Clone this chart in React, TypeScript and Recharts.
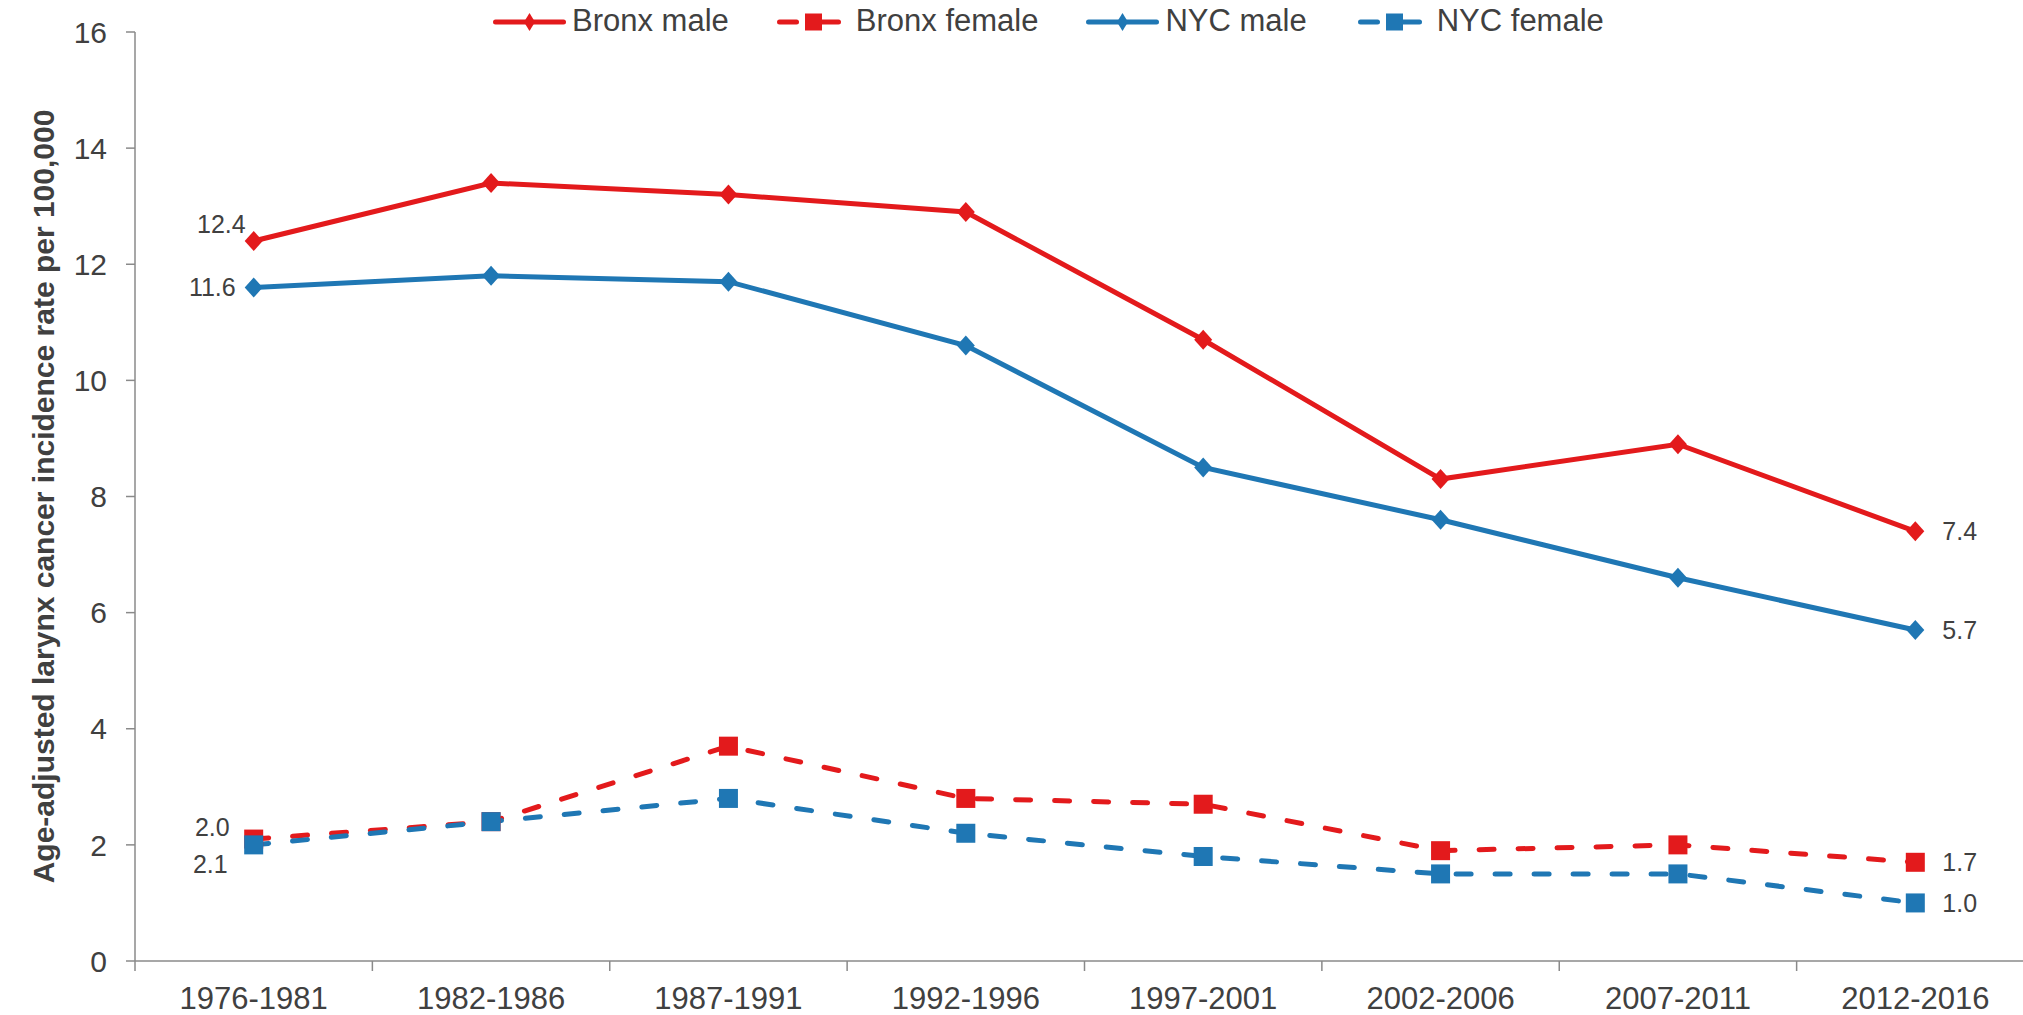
import React from "react";
import { Legend, Line, LineChart, XAxis, YAxis } from "recharts";

const CATEGORIES = [
  "1976-1981",
  "1982-1986",
  "1987-1991",
  "1992-1996",
  "1997-2001",
  "2002-2006",
  "2007-2011",
  "2012-2016",
];

const BRONX_MALE = [12.4, 13.4, 13.2, 12.9, 10.7, 8.3, 8.9, 7.4];
const BRONX_FEMALE = [2.1, 2.4, 3.7, 2.8, 2.7, 1.9, 2.0, 1.7];
const NYC_MALE = [11.6, 11.8, 11.7, 10.6, 8.5, 7.6, 6.6, 5.7];
const NYC_FEMALE = [2.0, 2.4, 2.8, 2.2, 1.8, 1.5, 1.5, 1.0];

// end-point annotations as printed on the chart (first, last)
const BRONX_MALE_LABELS = ["12.4", "7.4"];
const BRONX_FEMALE_LABELS = ["2.0", "1.7"];
const NYC_MALE_LABELS = ["11.6", "5.7"];
const NYC_FEMALE_LABELS = ["2.1", "1.0"];

const Y_TICKS = [0, 2, 4, 6, 8, 10, 12, 14, 16];
const Y_TITLE = "Age-adjusted larynx cancer incidence rate per 100,000";

const RED = "#e31a1c";
const BLUE = "#1f77b4";
const TEXT = "#404040";
const AXIS = "#8a8a8a";
const FONT = "'Liberation Sans', Arial, sans-serif";

const CHART_W = 2050;
const CHART_H = 1015;
const MARGIN = { top: 32, right: 16, bottom: 0, left: 0 };
const Y_AXIS_W = 135;
const X_AXIS_H = 54;
const PLOT_W = CHART_W - MARGIN.right - MARGIN.left - Y_AXIS_W;
const BAND = PLOT_W / CATEGORIES.length;

const data = CATEGORIES.map((period, i) => ({
  period,
  bronxMale: BRONX_MALE[i],
  bronxFemale: BRONX_FEMALE[i],
  nycMale: NYC_MALE[i],
  nycFemale: NYC_FEMALE[i],
}));

type Series = {
  key: string;
  name: string;
  color: string;
  dashed: boolean;
  labels: string[];
  first: { dx: number; dy: number };
};

const SERIES: Series[] = [
  { key: "bronxMale", name: "Bronx male", color: RED, dashed: false, labels: BRONX_MALE_LABELS, first: { dx: -8, dy: -17 } },
  { key: "bronxFemale", name: "Bronx female", color: RED, dashed: true, labels: BRONX_FEMALE_LABELS, first: { dx: -24, dy: -12 } },
  { key: "nycMale", name: "NYC male", color: BLUE, dashed: false, labels: NYC_MALE_LABELS, first: { dx: -18, dy: 0 } },
  { key: "nycFemale", name: "NYC female", color: BLUE, dashed: true, labels: NYC_FEMALE_LABELS, first: { dx: -26, dy: 19 } },
];

function markerFor(s: Series) {
  return (props: any) => {
    const { cx, cy, index } = props;
    if (cx == null || cy == null) return <g key={`${s.key}-m-${index}`} />;
    if (s.dashed) {
      return <rect key={`${s.key}-m-${index}`} x={cx - 9.5} y={cy - 9.5} width={19} height={19} fill={s.color} />;
    }
    return (
      <polygon
        key={`${s.key}-m-${index}`}
        points={`${cx},${cy - 10} ${cx + 9},${cy} ${cx},${cy + 10} ${cx - 9},${cy}`}
        fill={s.color}
      />
    );
  };
}

function labelFor(s: Series) {
  return (props: any) => {
    const { x, y, index } = props;
    const last = CATEGORIES.length - 1;
    if (index !== 0 && index !== last) return <g key={`${s.key}-l-${index}`} />;
    const isFirst = index === 0;
    return (
      <text
        key={`${s.key}-l-${index}`}
        x={isFirst ? x + s.first.dx : x + 27}
        y={isFirst ? y + s.first.dy : y}
        textAnchor={isFirst ? "end" : "start"}
        dominantBaseline="central"
        fontSize={25}
        fill={TEXT}
      >
        {isFirst ? s.labels[0] : s.labels[1]}
      </text>
    );
  };
}

function CategoryTick(props: any) {
  const { x, y, payload } = props;
  const axisY = y - 27;
  const edge = x - BAND / 2;
  return (
    <g>
      <line x1={edge} x2={edge} y1={axisY} y2={axisY + 10} stroke={AXIS} strokeWidth={1.5} />
      <text x={x} y={y} dy={21} textAnchor="middle" fontSize={31} fill={TEXT}>
        {payload.value}
      </text>
    </g>
  );
}

function LegendIcon({ s }: { s: Series }) {
  if (s.dashed) {
    return (
      <svg width={64} height={20} style={{ display: "block" }}>
        <line x1={2.5} x2={19.5} y1={10} y2={10} stroke={s.color} strokeWidth={5} strokeLinecap="round" />
        <line x1={40} x2={61.5} y1={10} y2={10} stroke={s.color} strokeWidth={5} strokeLinecap="round" />
        <rect x={28} y={1.5} width={17} height={17} fill={s.color} />
      </svg>
    );
  }
  return (
    <svg width={73} height={20} style={{ display: "block" }}>
      <line x1={2.5} x2={70.5} y1={10} y2={10} stroke={s.color} strokeWidth={5} strokeLinecap="round" />
      <polygon points="36.5,1 42,10 36.5,19 31,10" fill={s.color} />
    </svg>
  );
}

function LegendRow() {
  return (
    <div style={{ display: "flex", alignItems: "center", height: 40, fontFamily: FONT }}>
      {SERIES.map((s, i) => (
        <div
          key={s.key}
          style={{
            display: "flex",
            alignItems: "center",
            marginRight: i === SERIES.length - 1 ? 0 : i === 2 ? 51 : 48,
          }}
        >
          <LegendIcon s={s} />
          <span
            style={{
              marginLeft: s.dashed ? 15 : 6,
              fontSize: 31,
              lineHeight: 1,
              color: TEXT,
              position: "relative",
              top: -2,
              whiteSpace: "nowrap",
            }}
          >
            {s.name}
          </span>
        </div>
      ))}
    </div>
  );
}

export default function App() {
  return (
    <div
      style={{
        position: "absolute",
        left: 0,
        top: 0,
        width: 2023,
        height: 1015,
        overflow: "hidden",
        background: "#fff",
        fontFamily: FONT,
      }}
    >
      <LineChart width={CHART_W} height={CHART_H} data={data} margin={MARGIN}>
        <XAxis
          dataKey="period"
          height={X_AXIS_H}
          padding={{ left: BAND / 2, right: BAND / 2 }}
          axisLine={{ stroke: AXIS, strokeWidth: 1.5 }}
          tickLine={false}
          tickSize={10}
          tickMargin={17}
          interval={0}
          tick={CategoryTick}
        />
        <YAxis
          width={Y_AXIS_W}
          domain={[0, 16]}
          ticks={Y_TICKS}
          interval={0}
          axisLine={{ stroke: AXIS, strokeWidth: 1.5 }}
          tickLine={{ stroke: AXIS, strokeWidth: 1.5 }}
          tickSize={9}
          tickMargin={19}
          tick={{ fill: TEXT, fontSize: 30 }}
          label={{
            value: Y_TITLE,
            angle: -90,
            position: "insideLeft",
            offset: 43,
            style: { textAnchor: "middle", fontSize: 30, fontWeight: 700, fill: TEXT },
          }}
        />
        <Legend
          verticalAlign="middle"
          align="center"
          layout="horizontal"
          wrapperStyle={{ top: 2, left: 493, width: "auto", height: 40 }}
          content={() => <LegendRow />}
        />
        {SERIES.map((s) => (
          <Line
            key={s.key}
            dataKey={s.key}
            name={s.name}
            type="linear"
            stroke={s.color}
            strokeWidth={5}
            strokeDasharray={s.dashed ? "15 24" : undefined}
            strokeLinecap="round"
            dot={markerFor(s)}
            activeDot={false}
            label={labelFor(s)}
            isAnimationActive={false}
          />
        ))}
      </LineChart>
    </div>
  );
}
